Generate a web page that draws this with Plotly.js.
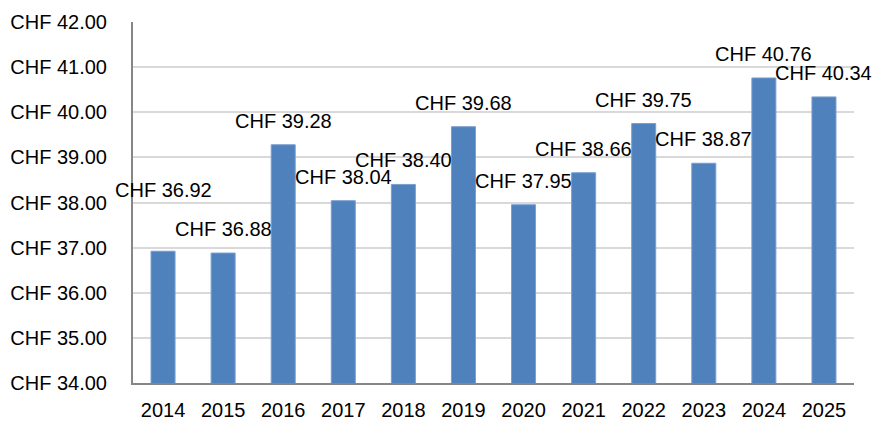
<!DOCTYPE html>
<html>
<head>
<meta charset="utf-8">
<script src="https://cdn.plot.ly/plotly-3.0.1.min.js"></script>
<style>
  html, body { margin: 0; padding: 0; background: #fff; }
  #myDiv { width: 875px; height: 423px; }
</style>
</head>
<body>
<div id="myDiv"></div>
<script>
var years = ['2014', '2015', '2016', '2017', '2018', '2019', '2020', '2021', '2022', '2023', '2024', '2025'];
var prices = [36.92, 36.88, 39.28, 38.04, 38.40, 39.68, 37.95, 38.66, 39.75, 38.87, 40.76, 40.34];

var trace1 = {
  x: years,
  y: prices,
  type: 'bar',
  marker: {color: '#4f81bd', line: {color: '#7a9fd0', width: 1}},
  hoverinfo: 'none'
};

// value labels above each bar (first one sits higher, as in the original)
// x given as category index so it isn't read as a number
var labels = years.map(function (yr, i) {
  return {
    x: i,
    y: prices[i],
    text: 'CHF ' + prices[i].toFixed(2),
    showarrow: false,
    yanchor: 'middle',
    yshift: i === 0 ? 61 : 24,
    font: {family: 'Liberation Sans, Arial, sans-serif', size: 20, color: '#000'}
  };
});

var layout = {
  width: 875,
  height: 423,
  margin: {l: 133, r: 21, t: 22, b: 40},
  paper_bgcolor: '#fff',
  plot_bgcolor: '#fff',
  showlegend: false,
  bargap: 0.6,
  font: {family: 'Liberation Sans, Arial, sans-serif', size: 20, color: '#000'},
  xaxis: {
    type: 'category',
    range: [-0.5, years.length - 0.5],
    showline: true,
    linecolor: '#868686',
    linewidth: 2,
    ticks: '',
    ticklabelstandoff: 8,
    tickfont: {size: 20}
  },
  yaxis: {
    range: [34, 42],
    dtick: 1,
    tickprefix: 'CHF ',
    tickformat: '.2f',
    showline: true,
    linecolor: '#868686',
    linewidth: 2,
    gridcolor: '#d9d9d9',
    gridwidth: 2,
    zeroline: false,
    ticks: '',
    ticklabelstandoff: 20,
    tickfont: {size: 20}
  },
  annotations: labels
};

Plotly.newPlot('myDiv', [trace1], layout, {displayModeBar: false, staticPlot: true});
</script>
</body>
</html>
